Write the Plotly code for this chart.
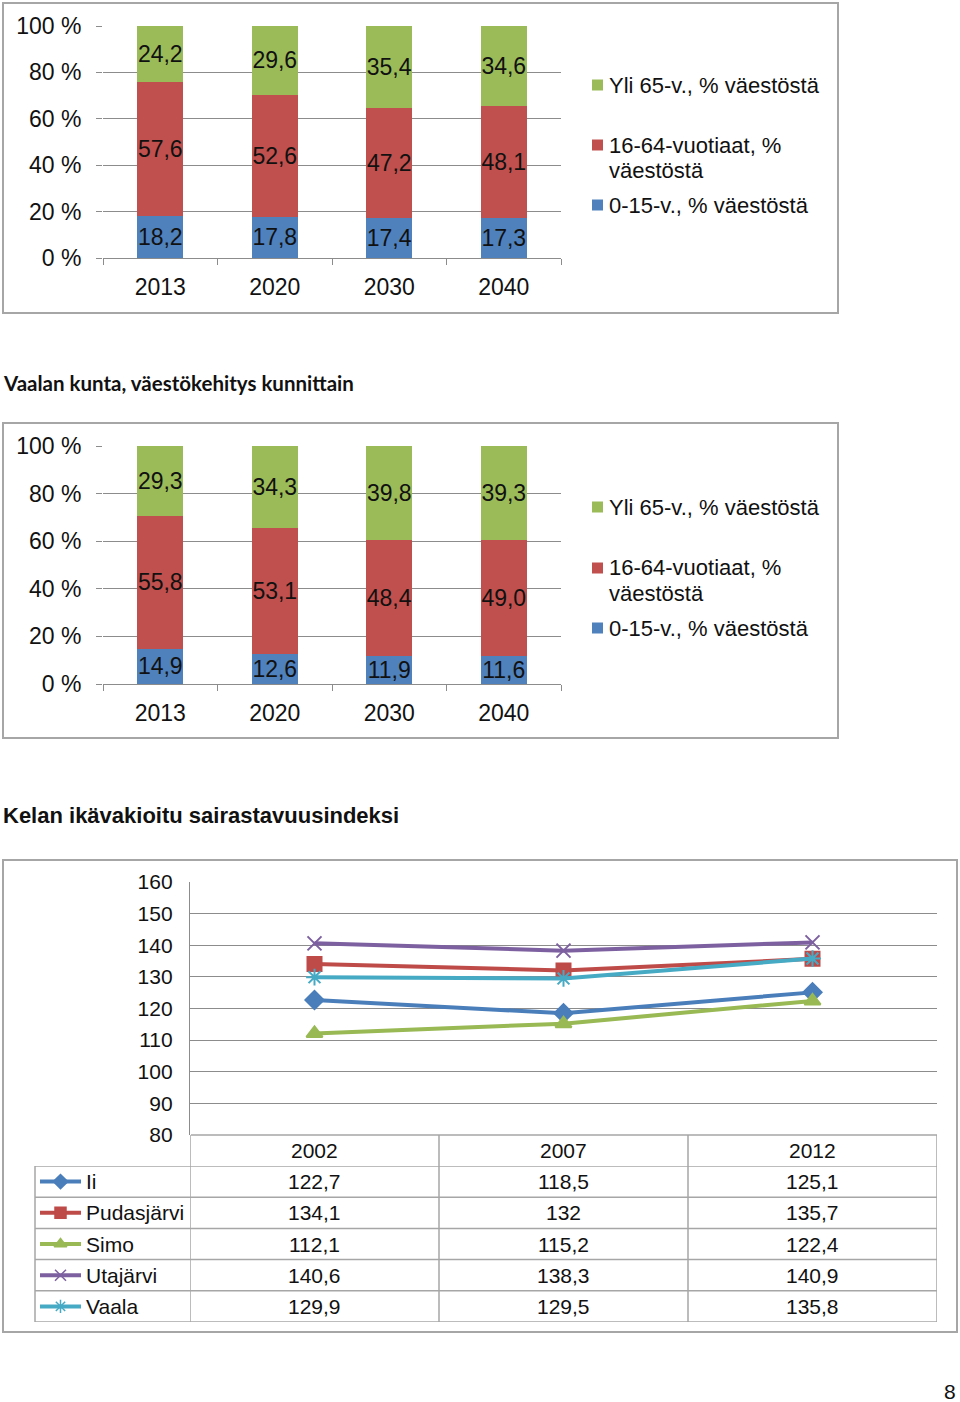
import plotly.graph_objects as go

W, H = 960, 1402
FONT = "Liberation Sans, Arial, sans-serif"
GRID = "#8c8c8c"
FRAME = "#a6a6a6"

# ---------------- data ----------------
years_pop = ["2013", "2020", "2030", "2040"]
region_0_15 = [18.2, 17.8, 17.4, 17.3]
region_16_64 = [57.6, 52.6, 47.2, 48.1]
region_65 = [24.2, 29.6, 35.4, 34.6]
vaala_0_15 = [14.9, 12.6, 11.9, 11.6]
vaala_16_64 = [55.8, 53.1, 48.4, 49.0]
vaala_65 = [29.3, 34.3, 39.8, 39.3]
series_names = ["0-15-v., % väestöstä", "16-64-vuotiaat, % väestöstä", "Yli 65-v., % väestöstä"]
bar_colors = ["#4F81BD", "#C0504D", "#9BBB59"]

idx_years = ["2002", "2007", "2012"]
municipalities = ["Ii", "Pudasjärvi", "Simo", "Utajärvi", "Vaala"]
idx_ii = [122.7, 118.5, 125.1]
idx_pudasjarvi = [134.1, 132, 135.7]
idx_simo = [112.1, 115.2, 122.4]
idx_utajarvi = [140.6, 138.3, 140.9]
idx_vaala = [129.9, 129.5, 135.8]
idx_values = [idx_ii, idx_pudasjarvi, idx_simo, idx_utajarvi, idx_vaala]
line_colors = ["#4A7EBB", "#BE4B48", "#98B954", "#7D60A0", "#46AAC5"]
line_symbols = ["diamond", "square", "triangle-up", "x-thin", "asterisk"]

title2 = "Vaalan kunta, väestökehitys kunnittain"
title3 = "Kelan ikävakioitu sairastavuusindeksi"


def X(px):
    return px / W


def Y(py):
    return 1 - py / H


def fi(v):
    return f"{v:.1f}".replace(".", ",")


def fv(v):
    return str(v).replace(".", ",")


fig = go.Figure()

# ---------------- stacked bars ----------------
for suffix, groups in (("", [region_0_15, region_16_64, region_65]),
                       ("2", [vaala_0_15, vaala_16_64, vaala_65])):
    for vals, name, col in zip(groups, series_names, bar_colors):
        fig.add_trace(go.Bar(
            x=years_pop, y=vals, name=name, marker=dict(color=col, line=dict(width=0)),
            text=[fi(v) for v in vals], textposition="inside", insidetextanchor="middle",
            textangle=0, constraintext="none",
            textfont=dict(family=FONT, size=23, color="#111111"),
            xaxis="x" + suffix, yaxis="y" + suffix, showlegend=False, hoverinfo="skip"))

# ---------------- line chart ----------------
cat_idx = list(range(len(idx_years)))
for name, vals, col, sym in zip(municipalities, idx_values, line_colors, line_symbols):
    mk = dict(symbol=sym, size=14, color=col, line=dict(color=col, width=2))
    fig.add_trace(go.Scatter(
        x=cat_idx, y=vals, mode="lines+markers", name=name,
        line=dict(color=col, width=4), marker=mk,
        xaxis="x3", yaxis="y3", showlegend=False, hoverinfo="skip"))

# legend keys inside the data table (helper axes x4/y4)
for i, (col, sym) in enumerate(zip(line_colors, line_symbols)):
    fig.add_trace(go.Scatter(x=[40, 81], y=[i + 0.5, i + 0.5], mode="lines",
                             line=dict(color=col, width=4), xaxis="x4", yaxis="y4",
                             showlegend=False, hoverinfo="skip"))
    fig.add_trace(go.Scatter(x=[60.5], y=[i + 0.5], mode="markers",
                             marker=dict(symbol=sym, size=11, color=col, line=dict(color=col, width=1.5)),
                             xaxis="x4", yaxis="y4", showlegend=False, hoverinfo="skip"))

shapes = []
annotations = []

# frames
for (x0, y0, x1, y1) in ((3, 3, 838, 313), (3, 423, 838, 738), (3, 860, 957, 1332)):
    shapes.append(dict(type="rect", xref="paper", yref="paper", x0=X(x0), x1=X(x1),
                       y0=Y(y1), y1=Y(y0), line=dict(color=FRAME, width=2)))


def bar_legend(entries):
    for sq_y, lines, col in entries:
        shapes.append(dict(type="rect", xref="paper", yref="paper", x0=X(592), x1=X(603),
                           y0=Y(sq_y + 5.5), y1=Y(sq_y - 5.5), fillcolor=col, line=dict(width=0)))
        for k, txt in enumerate(lines):
            annotations.append(dict(xref="paper", yref="paper", x=X(607), y=Y(sq_y + 25 * k),
                                    text=txt, showarrow=False, xanchor="left", yanchor="middle",
                                    font=dict(family=FONT, size=22, color="#111111")))


bar_legend([(85, ["Yli 65-v., % väestöstä"], bar_colors[2]),
            (145, ["16-64-vuotiaat, %", "väestöstä"], bar_colors[1]),
            (205, ["0-15-v., % väestöstä"], bar_colors[0])])
bar_legend([(507, ["Yli 65-v., % väestöstä"], bar_colors[2]),
            (568, ["16-64-vuotiaat, %", "väestöstä"], bar_colors[1]),
            (628, ["0-15-v., % väestöstä"], bar_colors[0])])

# titles
annotations.append(dict(xref="paper", yref="paper", x=X(1), y=Y(383), text="<b>" + title2 + "</b>",
                        showarrow=False, xanchor="left", yanchor="middle",
                        font=dict(family="Lato, Open Sans, sans-serif", size=20.5, color="#111111")))
annotations.append(dict(xref="paper", yref="paper", x=X(1), y=Y(815), text="<b>" + title3 + "</b>",
                        showarrow=False, xanchor="left", yanchor="middle",
                        font=dict(family=FONT, size=22, color="#111111")))
annotations.append(dict(xref="paper", yref="paper", x=X(958), y=Y(1391), text="8",
                        showarrow=False, xanchor="right", yanchor="middle",
                        font=dict(family=FONT, size=21, color="#111111")))

# data table
TL = dict(color=FRAME, width=1.5)
for k in range(6):
    shapes.append(dict(type="line", xref="paper", yref="y4", x0=X(35), x1=X(937), y0=k, y1=k, line=TL))
shapes.append(dict(type="line", xref="paper", yref="paper", x0=X(191), x1=X(937),
                   y0=Y(1135), y1=Y(1135), line=TL))
shapes.append(dict(type="line", xref="paper", yref="y4", x0=X(35), x1=X(35), y0=0, y1=5, line=TL))
for b in (-0.5, 0.5, 1.5, 2.5):
    shapes.append(dict(type="line", xref="x3", yref="paper", x0=b, x1=b,
                       y0=Y(1322), y1=Y(1135), line=TL))

for j, yr in enumerate(idx_years):
    annotations.append(dict(xref="x3", yref="paper", x=j, y=Y(1150), text=yr, showarrow=False,
                            xanchor="center", yanchor="middle",
                            font=dict(family=FONT, size=21, color="#111111")))
for i, (name, vals) in enumerate(zip(municipalities, idx_values)):
    annotations.append(dict(xref="x4", yref="y4", x=84, y=i + 0.5, text=name, showarrow=False,
                            xanchor="left", yanchor="middle",
                            font=dict(family=FONT, size=21, color="#111111")))
    for j, v in enumerate(vals):
        annotations.append(dict(xref="x3", yref="y4", x=j, y=i + 0.5, text=fv(v), showarrow=False,
                                xanchor="center", yanchor="middle",
                                font=dict(family=FONT, size=21, color="#111111")))

bar_x = dict(type="category", showgrid=False, showline=True, linecolor=GRID, linewidth=1.3,
             ticks="outside", tickson="boundaries", ticklen=6, tickcolor=GRID, tickwidth=1.3,
             tickfont=dict(family=FONT, size=23, color="#111111"), ticklabelstandoff=8,
             fixedrange=True, automargin=False)
bar_y = dict(range=[0, 100], dtick=20, ticksuffix=" %", showgrid=True, gridcolor=GRID, gridwidth=1.3,
             zeroline=False, showline=False, ticks="outside", ticklen=6, tickcolor=GRID, tickwidth=1.3,
             tickfont=dict(family=FONT, size=23, color="#111111"), ticklabelstandoff=10,
             fixedrange=True, automargin=False)

fig.update_layout(
    width=W, height=H, margin=dict(l=0, r=0, t=0, b=0, pad=0, autoexpand=False),
    paper_bgcolor="white", plot_bgcolor="white",
    barmode="stack", bargap=0.598, showlegend=False,
    xaxis=dict(bar_x, domain=[X(103), X(561)], anchor="y"),
    yaxis=dict(bar_y, domain=[Y(258), Y(26)], anchor="x"),
    xaxis2=dict(bar_x, domain=[X(103), X(561)], anchor="y2"),
    yaxis2=dict(bar_y, domain=[Y(684), Y(446)], anchor="x2"),
    xaxis3=dict(range=[-0.5, 2.5], domain=[X(190), X(937)], anchor="y3", showticklabels=False,
                showgrid=False, showline=False, zeroline=False, ticks="", fixedrange=True,
                automargin=False),
    yaxis3=dict(range=[80, 160], dtick=10, domain=[Y(1135), Y(882)], anchor="x3",
                showgrid=True, gridcolor=GRID, gridwidth=1.3, zeroline=False,
                showline=True, linecolor=GRID, linewidth=1.3, ticks="",
                tickfont=dict(family=FONT, size=21, color="#111111"), ticklabelstandoff=12,
                fixedrange=True, automargin=False),
    xaxis4=dict(range=[35, 191], domain=[X(35), X(191)], anchor="y4", visible=False,
                fixedrange=True, automargin=False),
    yaxis4=dict(range=[5, 0], domain=[Y(1322), Y(1166)], anchor="x4", visible=False,
                fixedrange=True, automargin=False),
    shapes=shapes, annotations=annotations,
)

fig.write_html("out.html", config={"displayModeBar": False},
               post_script="document.body.style.margin='0px';")
